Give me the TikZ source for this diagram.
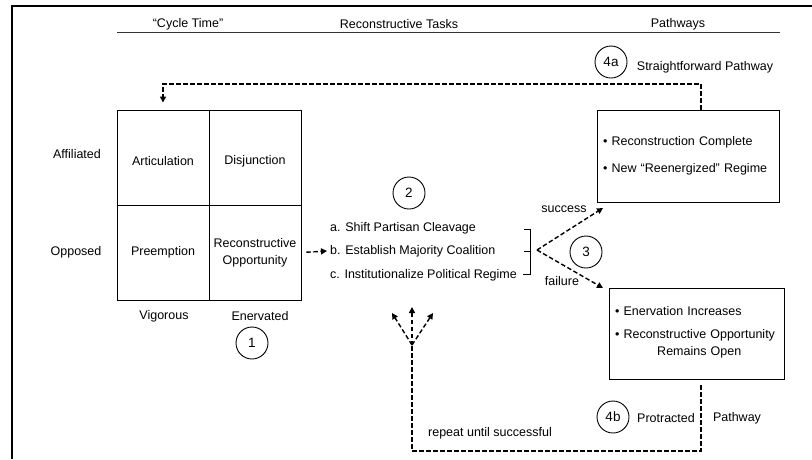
\documentclass[tikz,border=0pt]{standalone}
\usepackage{fontspec}
\setmainfont{Liberation Sans}
\usetikzlibrary{positioning}
\usetikzlibrary{arrows.meta}

\tikzset{
  every node/.style={font=\fontsize{12.5}{17}\selectfont},
  cell/.style={draw,line width=0.9pt,minimum width=92pt,minimum height=95pt,align=center,inner sep=0pt},
  num/.style={circle,draw,line width=0.9pt,minimum size=32pt,inner sep=0pt,font=\fontsize{13.5}{16}\selectfont},
  outcome/.style={draw,line width=0.9pt,align=left,inner xsep=6pt},
  task/.style={anchor=west,inner xsep=3pt},
  dline/.style={line width=1.4pt,dash pattern=on 4.5pt off 2.5pt},
  flow/.style={dline,-{Triangle[length=6pt,width=6pt]}}
}

\begin{document}
\begin{tikzpicture}[x=1pt,y=-1pt]
            \useasboundingbox (0,0) rectangle (812,459);
            \draw[line width=1.2pt] (12,459) -- (12,6) -- (812,6);

            % headings
            \node (hdCycle) at (188,24) {“Cycle Time”};
            \node (hdTasks) at (399,24) {Reconstructive Tasks};
            \node (hdPath) at (678,24) {Pathways};
            \draw[line width=0.8pt,black!80] (117,32) -- (780,32);

            % cycle time grid
            \node[cell] (art) at (163,157.5) {\rule{0pt}{17pt}Articulation};
            \node[cell] (dis) at (255,157.5) {\rule{0pt}{17pt}Disjunction};
            \node[cell] (pre) at (163,252.5) {Preemption};
            \node[cell] (rec) at (255,252.5) {Reconstructive\\Opportunity};
            \node (rowAff) at (77,154) {Affiliated};
            \node (rowOpp) at (76,252) {Opposed};
            \node (colVig) at (164,316) {Vigorous};
            \node (colEnv) at (260,316) {Enervated};
            \node[num] (stage1) at (252,343) {1};

            % tasks
            \node[num] (stage2) at (409,193) {2};
            \node[task] (taskA) at (327,228) {a. Shift Partisan Cleavage};
            \node[task] (taskB) at (327,251) {b. Establish Majority Coalition};
            \node[task] (taskC) at (327,275) {c. Institutionalize Political Regime};
            \draw[line width=0.9pt] (524,229) -- (530,229) -- (530,274) -- (523,274);
            \draw[line width=0.9pt] (524,251) -- (530,251);
            \draw[flow,shorten <=5pt] (rec.east) -- (taskB.west);

            % pathways
            \node[outcome,text width=170pt,minimum height=92pt] (done) at (688,156)
              {\textbullet\ Reconstruction Complete\\[10pt]\textbullet\ New “Reenergized” Regime};
            \node[outcome,text width=163pt,minimum height=91pt] (stall) at (696.5,333.5)
              {\textbullet\ Enervation Increases\\[6pt]\textbullet\ \begin{tabular}[t]{@{}c@{}}Reconstructive Opportunity\\Remains Open\end{tabular}};
            \node[num] (stage3) at (586,252) {3};
            \node (succLbl) at (564,209) {success};
            \node (failLbl) at (562,281) {failure};
            \coordinate (split) at (537,250);
            \coordinate (succ) at (603,208);
            \coordinate (fail) at (603,288);
            \draw[flow] (split) -- (succ);
            \draw[flow] (split) -- (fail);

            % straightforward pathway
            \node[num] (stage4a) at (611,62) {4a};
            \node (straight) at (705,67) {Straightforward Pathway};
            \coordinate (backTop) at (701,84);
            \draw[flow,shorten >=7pt] (backTop |- done.north) -- (backTop) -| (art.north);

            % protracted pathway
            \node[num] (stage4b) at (613,417) {4b};
            \node (protr) at (666,418) {Protracted};
            \node (pathw) at (737,418) {Pathway};
            \node (repeat) at (490,433) {repeat until successful};
            \coordinate (backBot) at (701,451);
            \coordinate (fork) at (412,345);
            \coordinate (forkL) at (392,313);
            \coordinate (forkM) at (412,307);
            \coordinate (forkR) at (433,313);
            \draw[dline,shorten <=6pt] (backBot |- stall.south) -- (backBot) -| (fork);
            \draw[flow] (fork) -- (forkL);
            \draw[flow] (fork) -- (forkM);
            \draw[flow] (fork) -- (forkR);
          \end{tikzpicture}
\end{document}
